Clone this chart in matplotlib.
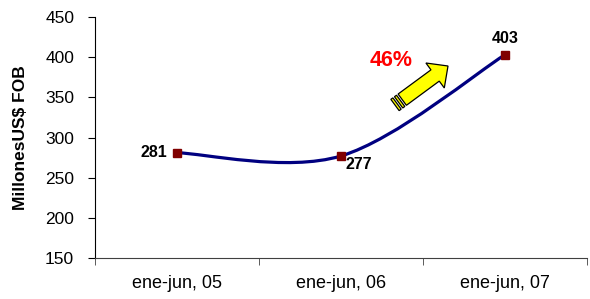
import matplotlib
matplotlib.use("Agg")
import matplotlib.pyplot as plt
from matplotlib.path import Path
from matplotlib.patches import PathPatch, Polygon
import numpy as np

categories = ["ene-jun, 05", "ene-jun, 06", "ene-jun, 07"]
values = [281, 277, 403]
growth_label = "46%"
y_label = "MillonesUS$ FOB"

plt.rcParams['font.family'] = ['Liberation Sans', 'DejaVu Sans']

W, H = 590, 299
fig = plt.figure(figsize=(W / 100, H / 100), dpi=100)
ax = fig.add_axes([95 / W, 1 - 258 / H, (587 - 95) / W, (258 - 17) / H])

x = np.arange(len(values), dtype=float)
y = np.array(values, dtype=float)

# Smoothed line (Catmull-Rom style Bezier, as in the spreadsheet chart)
n = len(x)
verts = [(x[0], y[0])]
codes = [Path.MOVETO]
for i in range(n - 1):
    p0 = np.array([x[max(i - 1, 0)], y[max(i - 1, 0)]])
    p1 = np.array([x[i], y[i]])
    p2 = np.array([x[i + 1], y[i + 1]])
    p3 = np.array([x[min(i + 2, n - 1)], y[min(i + 2, n - 1)]])
    c1 = p1 + (p2 - p0) / 6.0
    c2 = p2 - (p3 - p1) / 6.0
    verts += [tuple(c1), tuple(c2), tuple(p2)]
    codes += [Path.CURVE4] * 3
ax.add_patch(PathPatch(Path(verts, codes), facecolor='none', edgecolor='#000080',
                       lw=2.3, capstyle='round', joinstyle='round', zorder=3))
ax.plot(x, y, linestyle='none', marker='s', markersize=6, color='#800000',
        markeredgecolor='#800000', zorder=4)

# Data labels
ax.annotate(str(values[0]), (x[0], y[0]), xytext=(-7, 0), textcoords='offset points',
            ha='right', va='center', fontsize=11.5, fontweight='bold')
ax.annotate(str(values[1]), (x[1], y[1]), xytext=(3, -1), textcoords='offset points',
            ha='left', va='top', fontsize=11.5, fontweight='bold')
ax.annotate(str(values[2]), (x[2], y[2]), xytext=(0, 6), textcoords='offset points',
            ha='center', va='bottom', fontsize=11.5, fontweight='bold')

ax.set_xlim(-0.5, 2.5)
ax.set_ylim(150, 450)
ax.set_yticks(np.arange(150, 451, 50))
ax.set_xticks(x)
ax.set_xticklabels(categories)
ax.set_xticks(np.arange(-0.5, 2.6, 1.0), minor=True)
ax.tick_params(axis='x', which='major', length=0, pad=12, labelsize=13)
ax.tick_params(axis='x', which='minor', length=5, direction='out', color='#404040')
ax.tick_params(axis='y', length=5, direction='out', labelsize=12.5, pad=10)
for s in ['top', 'right']:
    ax.spines[s].set_visible(False)
ax.spines['bottom'].set_color('#404040')
ax.spines['left'].set_color('black')
ax.set_ylabel(y_label, fontsize=12.5, fontweight='bold', labelpad=12)

# Growth annotation and striped arrow (figure pixel coordinates)
fig.text(391 / W, 1 - 61 / H, growth_label, color='#FF0000', fontsize=15.5,
         fontweight='bold', ha='center', va='center')

tail = np.array([395.0, 105.0])
tip = np.array([448.0, 66.0])
d = tip - tail
L = np.hypot(*d)
u = d / L
nrm = np.array([u[1], -u[0]])
sw, hw, hl = 7.0, 15.5, 16.0

def P(a, b):
    pt = tail + u * a + nrm * b
    return (pt[0] / W, 1 - pt[1] / H)

body_start = 9.0
arrow_pts = [P(body_start, -sw), P(L - hl, -sw), P(L - hl, -hw), P(L, 0),
             P(L - hl, hw), P(L - hl, sw), P(body_start, sw)]
fig.patches.append(Polygon(arrow_pts, closed=True, facecolor='#FFFF00', edgecolor='black',
                           lw=0.9, transform=fig.transFigure, figure=fig))
for a0, a1 in [(0.0, 2.5), (4.5, 7.0)]:
    pts = [P(a0, -sw), P(a1, -sw), P(a1, sw), P(a0, sw)]
    fig.patches.append(Polygon(pts, closed=True, facecolor='#FFFF00', edgecolor='black',
                               lw=0.9, transform=fig.transFigure, figure=fig))

fig.savefig("out.png", dpi=100)
